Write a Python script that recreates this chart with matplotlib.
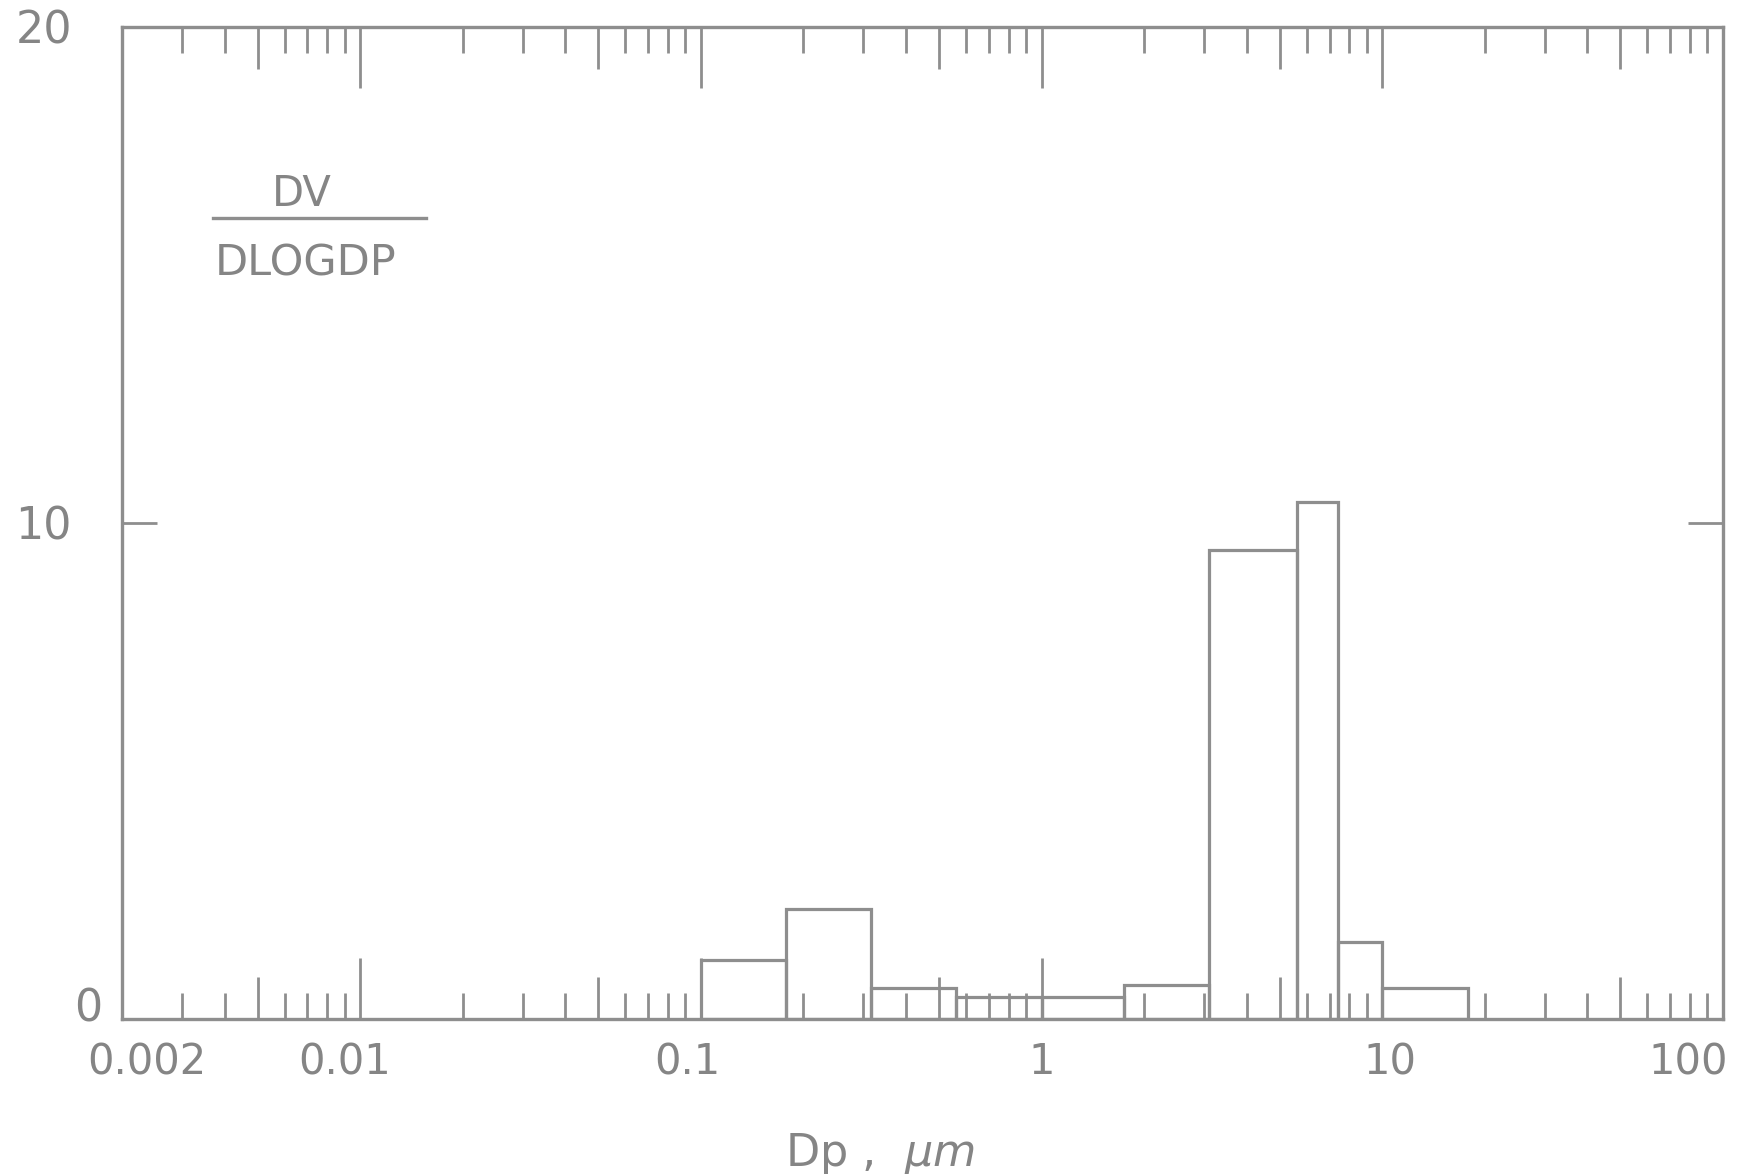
#!/usr/bin/env python
# Volume size distribution, DV/DLOGDP against Dp on a log axis, drawn as open bars.
import numpy as np
import matplotlib
matplotlib.use("Agg")
import matplotlib.pyplot as plt
from matplotlib.lines import Line2D
from matplotlib.transforms import ScaledTranslation

LINE = "#8e8e8e"
TXT = "#858585"

# bin edges (um) and DV/DLOGDP per bin
EDGES = [0.1, 0.178, 0.316, 0.562, 1.0, 1.75, 3.1, 5.62, 7.4, 10.0, 17.8]
DV_DLOGDP = [1.19, 2.22, 0.63, 0.44, 0.44, 0.69, 9.46, 10.42, 1.55, 0.63]

XTICKS = [0.002, 0.01, 0.1, 1, 10, 100]
XLABELS = ["0.002", "0.01", "0.1", "1", "10", "100"]
XLABEL_SHIFT = [25, -16, -13, 0, 8, -35]     # px, hand lettered labels sit off-centre
YTICKS = [0, 10, 20]
YLABELS = ["0", "10", "20"]

W, H = 1744, 1174
fig = plt.figure(figsize=(W / 100, H / 100), dpi=100)
ax = fig.add_axes([122 / W, 1 - 1019 / H, (1723 - 122) / W, (1019 - 27) / H])

edges = np.array(EDGES)
ax.bar(edges[:-1], DV_DLOGDP, width=np.diff(edges), align="edge",
       fill=False, edgecolor=LINE, linewidth=2.3, zorder=3)

ax.set_xscale("log")
ax.set_xlim(0.002, 100)
ax.set_ylim(0, 20)

for s in ax.spines.values():
    s.set_color(LINE)
    s.set_linewidth(2.4)

# log ticks: decades long, 5s medium, the rest short; all inward, top and bottom
minors = [m * 10.0 ** k for k in range(-3, 2) for m in (2, 3, 4, 6, 7, 8, 9)]
minors = [v for v in minors if 0.002 < v < 100]
fives = [5 * 10.0 ** k for k in range(-3, 2)]
ax.set_xticks(XTICKS)
ax.set_xticklabels(XLABELS)
ax.set_xticks(minors, minor=True)
ax.tick_params(axis="x", which="major", direction="in", length=44, width=2,
               top=True, pad=16, labelsize=30, color=LINE, labelcolor=TXT)
ax.tick_params(axis="x", which="minor", direction="in", length=19, width=2,
               top=True, color=LINE)
mid = 30 / 72 * 100 / (1019 - 27)
tr = ax.get_xaxis_transform()
ax.vlines(fives, 0, mid, transform=tr, color=LINE, lw=2)
ax.vlines(fives, 1 - mid, 1, transform=tr, color=LINE, lw=2)

ax.set_yticks(YTICKS)
ax.set_yticklabels(YLABELS)
ax.tick_params(axis="y", direction="in", length=25, width=2, right=True,
               pad=36, labelsize=32, color=LINE, labelcolor=TXT)

for lab, dx in zip(ax.get_xticklabels(), XLABEL_SHIFT):
    lab.set_transform(lab.get_transform() +
                      ScaledTranslation(dx * 0.72 / 72, 0, fig.dpi_scale_trans))
ylab0 = ax.get_yticklabels()[0]
ylab0.set_transform(ylab0.get_transform() +
                    ScaledTranslation(30 * 0.72 / 72, 15 * 0.72 / 72, fig.dpi_scale_trans))

# y quantity written as a fraction inside the frame
fig.text(302 / W, 1 - 194 / H, "DV", ha="center", va="center",
         fontsize=30, color=TXT)
fig.add_artist(Line2D([213 / W, 426 / W], [1 - 218 / H, 1 - 218 / H],
                      color=LINE, lw=2.4))
fig.text(306 / W, 1 - 263 / H, "DLOGDP", ha="center", va="center",
         fontsize=31, color=TXT)

fig.text(880 / W, 1 - 1154 / H, "Dp ,  $\\mu m$", ha="center", va="center",
         fontsize=32, color=TXT)

fig.savefig("out.png", dpi=100, facecolor="white")
plt.close(fig)
